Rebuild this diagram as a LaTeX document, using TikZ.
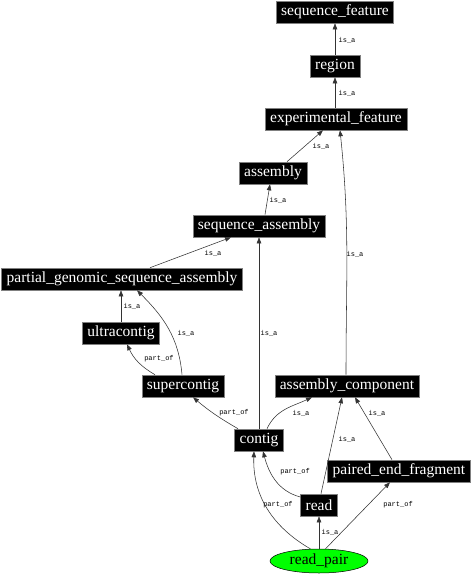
\documentclass[tikz,border=0pt]{standalone}
\usepackage{fontspec}
\setmainfont{Liberation Serif}
\newfontfamily\edgefont{Liberation Mono}
\usepackage{tikz}
\usetikzlibrary{arrows.meta,shapes.geometric}

\begin{document}
\begin{tikzpicture}[x=1pt,y=-1pt,
  term/.style={fill=black,draw=gray,line width=0.6pt,text=white,inner xsep=5pt,
    minimum height=22pt,font=\fontsize{15.5}{16}\selectfont},
  leaf/.style={ellipse,fill=green,draw=black,line width=0.5pt,minimum width=98pt,
    minimum height=24pt,inner sep=0pt,font=\fontsize{15.5}{16}\selectfont},
  rel/.style={line width=0.55pt,draw=black!80,-{Triangle[length=6pt,width=4.5pt]}},
  lab/.style={font=\edgefont\fontsize{7}{8}\selectfont,inner sep=0pt}]
  \useasboundingbox (0,0) rectangle (474,576);
  % terms
  \node[term] (sf)  at (335,12)  {sequence\_feature};
  \node[term] (reg) at (335,66)  {region};
  \node[term] (ef)  at (336,119) {experimental\_feature};
  \node[term] (asm) at (273,173) {assembly};
  \node[term] (sa)  at (259,226) {sequence\_assembly};
  \node[term] (pg)  at (122,279) {partial\_genomic\_sequence\_assembly};
  \node[term] (uc)  at (121,333) {ultracontig};
  \node[term] (sc)  at (183,386) {supercontig};
  \node[term] (ac)  at (347,386) {assembly\_component};
  \node[term] (ctg) at (259,440) {contig};
  \node[term] (pef) at (399,471) {paired\_end\_fragment};
  \node[term] (rd)  at (319,505) {read};
  \node[leaf] (rp)  at (319,561) {read\_pair};
  % relations
  \draw[rel] (reg) -- (sf) node[lab] at (347,40) {is\_a};
  \draw[rel] (ef.north -| reg.south) -- (reg.south) node[lab] at (347,93) {is\_a};
  \draw[rel] ([xshift=14pt]asm.north) -- ([xshift=-13pt]ef.south) node[lab] at (321,146) {is\_a};
  \draw[rel] ([xshift=6pt]sa.north) -- ([xshift=-3pt]asm.south) node[lab] at (278,200) {is\_a};
  \draw[rel] ([xshift=28pt]pg.north) -- ([xshift=-28pt]sa.south) node[lab] at (213,253) {is\_a};
  \draw[rel] (uc.north) -- (uc.north |- pg.south) node[lab] at (132,306) {is\_a};
  \draw[rel] ([xshift=-1pt]sc.north) to[out=95,in=-45] ([xshift=15pt]pg.south) node[lab] at (186,333) {is\_a};
  \draw[rel] ([xshift=-28pt]sc.north) to[out=150,in=-65] ([xshift=6pt]uc.south) node[lab] at (159,359) {part\_of};
  \draw[rel] (ctg.north) -- (ctg.north |- sa.south) node[lab] at (269,333) {is\_a};
  \draw[rel] ([xshift=-1pt]ac.north) to[out=90,in=-84] ([xshift=4pt]ef.south) node[lab] at (355,254) {is\_a};
  \draw[rel] ([xshift=-21pt]ctg.north) to[out=150,in=-40] ([xshift=10pt]sc.south) node[lab] at (234,413) {part\_of};
  \draw[rel] ([xshift=8pt]ctg.north) to[out=65,in=-155] ([xshift=-35pt]ac.south) node[lab] at (301,413) {is\_a};
  \draw[rel] ([xshift=2pt]rd.north) -- ([xshift=-5pt]ac.south) node[lab] at (347,439) {is\_a};
  \draw[rel] ([xshift=-7pt]pef.north) -- ([xshift=8pt]ac.south) node[lab] at (377,413) {is\_a};
  \draw[rel] ([yshift=8pt]rd.west) to[out=165,in=-75] ([xshift=4pt]ctg.south) node[lab] at (295,472) {part\_of};
  \draw[rel] (rp.125) to[out=150,in=-92] ([xshift=-5pt]ctg.south) node[lab] at (278,505) {part\_of};
  \draw[rel] (rp.north) -- (rd.south) node[lab] at (330,532) {is\_a};
  \draw[rel] (rp.62) -- ([xshift=-9pt]pef.south) node[lab] at (398,505) {part\_of};
\end{tikzpicture}
\end{document}
